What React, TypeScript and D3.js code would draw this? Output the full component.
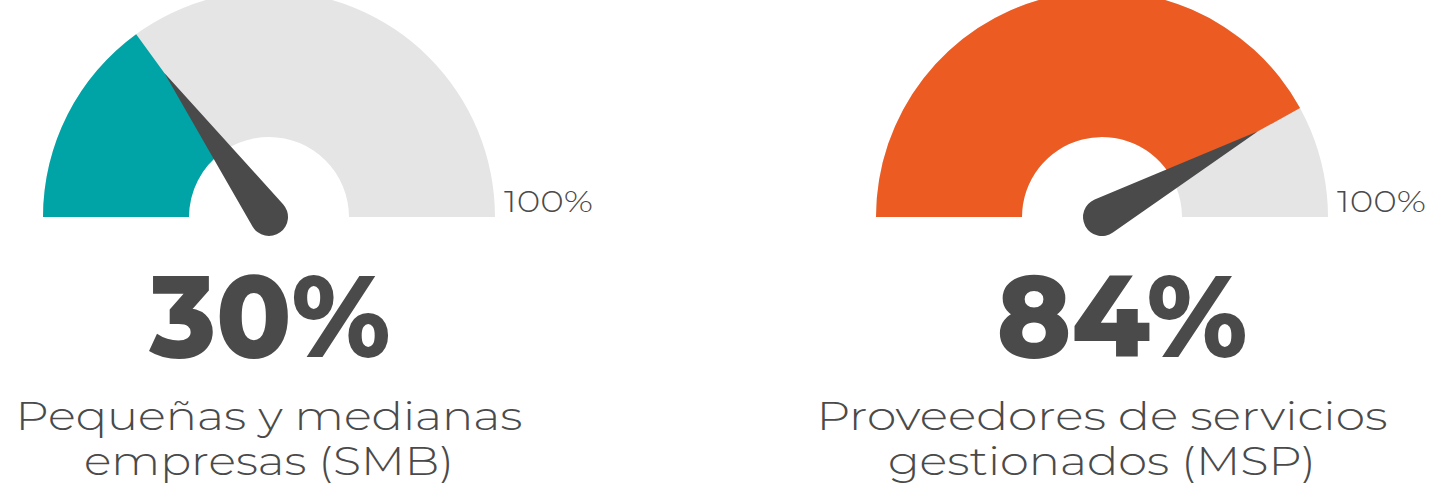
import * as d3 from "d3";

// gauge values (percent)
const values = [30, 84];
const valueLabels = ["30%", "84%"];
const maxLabel = "100%";
const captionLines = [
  ["Pequeñas y medianas", "empresas (SMB)"],
  ["Proveedores de servicios", "gestionados (MSP)"],
];

const COLORS = {
  fill: ["#00A3A6", "#EB5B22"],
  track: "#E5E5E5",
  needle: "#4A4A4A",
  text: "#4A4A4A",
};

const WIDTH = 1446;
const HEIGHT = 495;
const centersX = [269, 1102];
const baseY = 217;
const outerR = 226;
const innerR = 80;
const needleLen = 178;
const knobR = 19;

// widths measured on the reference (its font is wider than what we have)
const valueWidths = [241, 251];
const valueShift = [1, 20];
const captionWidths = [
  [507, 370],
  [571, 428],
];
const maxLabelWidth = 89;

const FONT = "Montserrat, 'Open Sans', sans-serif";

const angle = d3.scaleLinear().domain([0, 100]).range([-Math.PI / 2, Math.PI / 2]);

const arc = d3.arc<{ start: number; end: number }>()
  .innerRadius(innerR)
  .outerRadius(outerR)
  .startAngle((d) => d.start)
  .endAngle((d) => d.end);

function needlePath(value: number) {
  const a = angle(value);
  // screen angle of needle direction
  const theta = Math.atan2(-Math.cos(a), Math.sin(a));
  const tip = [needleLen * Math.cos(theta), needleLen * Math.sin(theta)];
  const phi = Math.acos(knobR / needleLen);
  const p1 = [knobR * Math.cos(theta + phi), knobR * Math.sin(theta + phi)];
  const p2 = [knobR * Math.cos(theta - phi), knobR * Math.sin(theta - phi)];
  return `M${tip[0]},${tip[1]}L${p1[0]},${p1[1]}A${knobR},${knobR} 0 1 1 ${p2[0]},${p2[1]}Z`;
}

function Gauge({ i }: { i: number }) {
  const v = values[i];
  return (
    <g transform={`translate(${centersX[i]},${baseY})`}>
      <path d={arc({ start: angle(0), end: angle(100) })!} fill={COLORS.track} />
      <path d={arc({ start: angle(0), end: angle(v) })!} fill={COLORS.fill[i]} />
      <path d={needlePath(v)} fill={COLORS.needle} />
      <text
        x={outerR + 9}
        y={-5}
        fontFamily={FONT}
        fontWeight={300}
        fontSize={31}
        fill={COLORS.text}
        textLength={maxLabelWidth}
        lengthAdjust="spacingAndGlyphs"
      >
        {maxLabel}
      </text>
      <text
        x={valueShift[i]}
        y={140}
        textAnchor="middle"
        fontFamily={FONT}
        fontWeight={800}
        fontSize={116}
        fill={COLORS.text}
        textLength={valueWidths[i]}
        lengthAdjust="spacingAndGlyphs"
      >
        {valueLabels[i]}
      </text>
      {captionLines[i].map((line, j) => (
        <text
          key={j}
          x={0}
          y={213 + j * 44.5}
          textAnchor="middle"
          fontFamily={FONT}
          fontWeight={300}
          fontSize={40}
          fill={COLORS.text}
          textLength={captionWidths[i][j]}
          lengthAdjust="spacingAndGlyphs"
        >
          {line}
        </text>
      ))}
    </g>
  );
}

export default function App() {
  return (
    <svg
      width={WIDTH}
      height={HEIGHT}
      style={{ position: "absolute", left: 0, top: 0, background: "#fff" }}
    >
      {values.map((_, i) => (
        <Gauge key={i} i={i} />
      ))}
    </svg>
  );
}
